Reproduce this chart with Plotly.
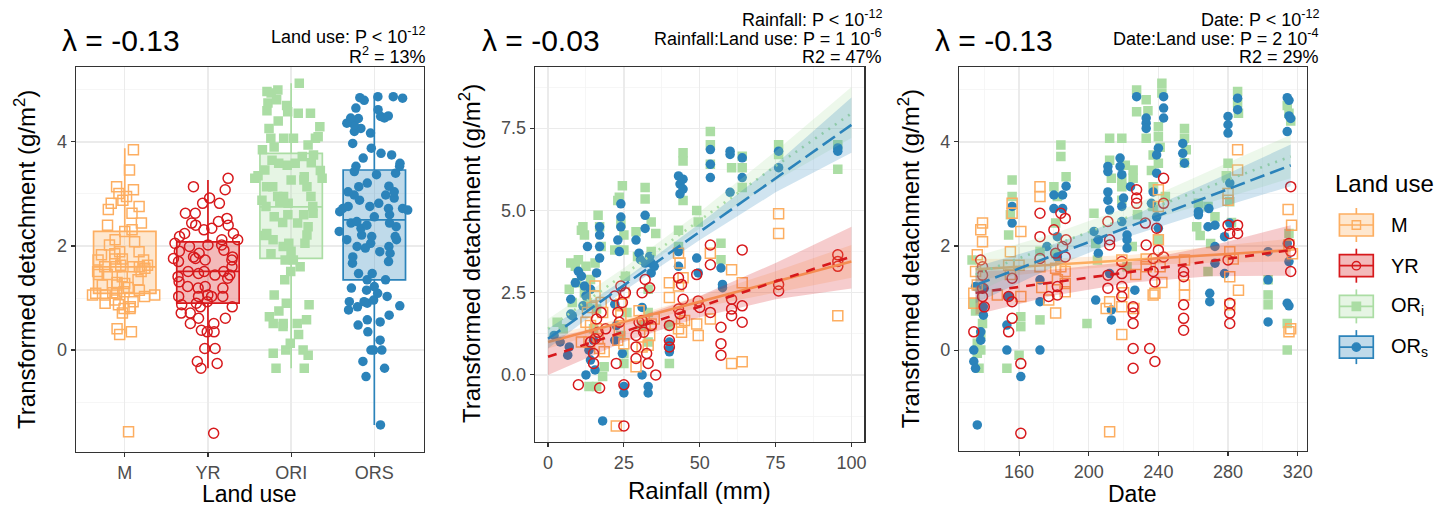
import plotly.graph_objects as go

W, H = 1447, 509
FONT = "Liberation Sans, Arial, Helvetica, sans-serif"

groups = ["M", "YR", "ORI", "ORS"]
tick_labels_landuse = ["M", "YR", "ORI", "ORS"]
legend_labels = ["M", "YR", "OR<sub>i</sub>", "OR<sub>s</sub>"]
colors = {"M": "#FDAE61", "YR": "#D7191C", "ORI": "#ABDDA4", "ORS": "#2B83BA"}
symbols = {"M": "square-open", "YR": "circle-open", "ORI": "square", "ORS": "circle"}

# ---------------- Panel 1: box statistics ----------------
box_q1 = [1.09, 0.90, 1.76, 1.35]
box_med = [1.60, 1.51, 2.75, 2.50]
box_q3 = [2.28, 2.08, 3.78, 3.46]
box_lo = [0.32, -0.35, -0.35, -1.44]
box_hi = [3.88, 3.27, 5.13, 4.87]

# ---------------- Panel 3 data (Date, transformed detachment, lambda=-0.13) ---
date_pts_M = [(139, 2.44), (138, 2.31), (139, 2.08), (136, 1.83), (135, 1.51), (134, 1.09), (147.5, 1.06),
              (134, 0.9), (156, 2.82), (156, 2.63), (155, 1.89), (154, 1.63), (161, 2.28), (160, 1.63),
              (161, 1.03), (172, 3.14), (172, 2.95), (172, 1.6), (177, 0.96), (181, 0.71), (181, 1.57),
              (186.5, 1.51), (186.5, 1.28), (186.5, 1.12), (184, 1.6), (212, -1.57), (212, 0.93), (210, 0.8),
              (219, 0.3), (219, 1.73), (219, 0.83), (226, 0.8), (233, 1.6), (233, 1.75), (240, 3.08),
              (240, 2.76), (240, 2.12), (237, 1.06), (238, 1.09), (241, 1.6), (255, 1.73), (255, 1.25),
              (255, 1.06), (280, 3.01), (280, 2.88), (285.5, 3.85), (285.5, 3.46), (281, 1.89), (281, 1.41),
              (281, 0.87), (314.5, 2.7), (316.5, 2.4), (315, 2.02), (315, 0.35), (316, 0.41), (136, 1.25),
              (155, 1.45), (173, 1.2), (182, 1.35), (220, 1.1), (227, 1.45), (242, 1.3), (283, 1.75),
              (286, 1.15), (317, 1.85)]
date_pts_YR = [(138, 1.73), (139, 1.6), (139, 1.44), (139, 1.19), (139, 1.03), (140, 0.83), (134, 0.35),
               (156, 1.38), (154, 1.03), (156, 0.93), (156, 0.61), (154, 0.35), (161, -0.26), (161, -1.6),
               (172, 2.63), (172, 2.18), (172, 1.76), (177, 1.03), (180, 2.31), (181, 1.86), (182, 1.06),
               (182, 1.22), (184, 2.63), (186.5, 2.53), (187, 2.12), (185, 1.99), (186.5, 1.79), (211, 2.47),
               (212, 2.12), (212, 2.02), (211, 1.44), (211, 1.19), (219, 1.7), (219, 1.47), (219, 1.22),
               (219, 1.03), (225.5, 0.83), (225.5, 0.71), (225.5, 0.51), (225.5, 0.03), (225.5, -0.35),
               (227.5, 3.08), (227.5, 2.92), (227.5, 2.82), (232.5, 2.44), (233, 2.02), (235, 0.03),
               (238, -0.22), (237, 1.76), (237, 1.51), (238, 1.31), (240, 1.92), (239, 2.34), (243, 3.3),
               (243, 2.82), (243, 1.79), (254.5, 1.51), (254.5, 1.41), (254.5, 0.87), (254.5, 0.61),
               (254.5, 0.38), (280, 2.4), (281, 2.24), (280, 1.73), (281, 0.9), (281, 0.71), (281, 0.51),
               (285.5, 2.4), (285.5, 2.24), (316, 3.14), (315, 2.05), (316, 1.9), (316, 1.51)]
date_pts_ORI = [(133, 1.73), (134, 0.9), (136, 0.13), (136, -0.06), (137, -0.35), (138, 0.0), (139, 0.51),
                (138, 0.3), (156, 3.27), (156, 2.95), (154, 2.21), (153, -0.35), (160, -0.1), (161, 0.64),
                (161, 0.45), (172, 0.58), (184, 3.94), (184, 3.72), (187, 3.33), (180, 3.14), (181, 2.44),
                (181, 1.85), (199, 0.51), (203, 2.63), (212, 3.65), (212, 4.07), (205, 1.73), (219, 4.07),
                (219, 3.27), (219, 3.14), (219, 2.88), (222, 1.6), (225, 1.99), (225.5, 3.46), (225.5, 3.3),
                (227.5, 5.0), (227.5, 4.58), (233, 4.81), (233, 4.07), (237, 3.75), (237, 3.14), (237, 2.76),
                (240, 4.29), (240, 4.1), (240, 3.59), (240, 2.12), (242, 5.13), (242, 4.94), (255, 4.26),
                (255, 4.07), (255, 3.6), (263, 2.82), (262, 2.37), (268.5, 2.76), (272.5, 2.56), (268.5, 1.51),
                (280, 3.59), (281, 2.85), (285.5, 4.97), (285.5, 4.75), (303, 1.35), (303, 1.06), (303, 0.87),
                (314, 4.7), (315, 4.55), (316, 4.4), (315, 2.24), (314, 0.51), (314, 0.0), (182, 2.95),
                (213, 3.3), (221, 3.55), (234, 4.6), (241, 3.9), (256, 3.85), (264, 2.2), (279, 3.35),
                (286, 4.55), (155, 2.6), (172, 1.9), (204, 2.05), (228, 2.6), (236, 3.45), (244, 2.95),
                (270, 2.05), (282, 2.45), (135, 0.75)]
date_pts_ORS = [(136, -1.44), (134, -0.22), (135, -0.35), (134, 0.0), (138, 0.19), (138, 0.35), (139.5, 0.67),
                (139.5, 0.83), (140, 1.19), (135, 1.22), (153, 0.0), (153, 0.48), (154, 1.03), (156, 2.44),
                (156, 2.76), (161, -0.51), (172, 0.0), (172, 0.93), (172, 1.35), (176, 1.99), (180, 2.98),
                (180, 2.72), (182, 2.18), (182, 1.79), (185, 2.98), (185, 2.72), (187, 3.15), (203, 2.28),
                (205.5, 2.12), (205.5, 1.86), (204, 0.96), (211, 3.43), (211, 3.53), (211, 3.04), (211, 2.88),
                (212, 2.69), (212, 1.47), (213, 0.77), (213, 0.58), (218, 3.69), (218, 3.53), (219, 3.37),
                (220, 2.92), (219, 2.76), (219, 2.47), (222, 2.21), (222, 2.12), (222, 1.96), (226.5, 1.15),
                (227.5, 4.87), (224, 3.14), (233, 4.46), (233, 4.36), (233, 4.26), (236, 2.82), (237, 3.04),
                (239, 3.4), (240, 3.88), (239, 3.75), (239, 2.56), (240, 2.34), (243, 4.87), (243, 4.65),
                (243, 4.46), (254, 3.97), (254, 3.78), (255, 3.59), (263, 2.66), (263, 2.6), (269, 2.72),
                (268.5, 2.37), (272.5, 2.4), (269.5, 1.09), (269.5, 0.93), (272.5, 1.99), (272.5, 1.67),
                (280, 4.49), (280, 4.33), (280, 4.17), (281, 3.21), (278, 2.18), (281, 2.44), (278, 1.47),
                (285.5, 4.84), (285.5, 4.62), (303, 1.89), (303, 1.35), (303, 0.54), (314, 4.85), (315, 4.8),
                (315, 4.5), (316, 4.45), (314, 4.2), (314, 2.05), (315, 1.7), (314, 0.9), (315, 0.85)]

# ---------------- Panel 2 data (Rainfall mm, transformed detachment, lambda=-0.03) ---
rain_pts_M = [(11, 1.0), (12.5, 1.6), (13, 1.9), (13.5, 1.0), (14, 1.5), (15.5, 2.7), (15.5, 2.4), (16, 1.4),
              (16.5, 1.1), (17, 0.8), (18, 1.9), (18.5, 0.7), (22.5, -1.55), (23, 1.05), (24, 2.15), (24, 1.8),
              (25, 0.95), (25, 2.5), (29, 0.25), (31, 0.85), (32, 1.5), (33, 0.9), (34, 1.55), (35, 1.7),
              (40, 2.8), (40, 2.35), (43, 3.7), (43, 1.4), (43.5, 3.4), (44, 1.3), (44.5, 2.95), (45, 1.65),
              (49, 1.55), (49.5, 1.2), (53.5, 3.7), (53.5, 1.7), (60.5, 3.2), (60.5, 0.35), (64, 2.8),
              (64, 0.4), (76, 4.9), (76, 4.3), (95.5, 1.8), (14.5, 2.05), (17.5, 2.2), (23.5, 1.35),
              (30, 1.95), (33.5, 1.2), (43, 2.7), (44, 1.6)]
rain_pts_YR = [(10, -0.3), (14, 1.0), (15, 0.65), (15, 0.35), (15.5, 1.1), (16, 1.7), (17, -0.4), (17.5, 1.9),
               (19, 1.4), (22, 2.4), (22.5, 0.35), (23, 1.9), (24, 2.7), (24.5, 2.2), (25, -0.3), (25, -1.55),
               (25.5, 2.5), (29, 1.2), (29, 0.85), (29, 0.5), (30, 1.6), (31, 2.5), (31, 1.65), (32, 2.9),
               (32.5, 0.65), (33, 0.35), (33.5, 2.65), (34, 1.5), (35.5, 0.0), (40, 1.5), (40, 1.05),
               (40, 0.85), (43, 2.95), (43, 2.0), (43.5, 1.85), (44, 2.75), (44.5, 2.3), (49, 3.05),
               (49.5, 2.25), (50, 2.05), (53.5, 3.95), (53.5, 3.35), (53.5, 1.9), (57, 1.45), (57, 0.95),
               (57, 0.6), (60.5, 2.3), (60.5, 2.0), (60.5, 1.8), (64, 3.8), (64, 2.1), (64, 1.6), (76, 2.75),
               (76, 2.55), (95.5, 3.65), (95.5, 3.45), (95.5, 3.3), (16.5, 1.3), (23.5, 1.6), (31.5, 1.3)]
rain_pts_ORI = [(3, 1.6), (5, 1.4), (7, 2.6), (7.5, 3.4), (8, 2.2), (9, 3.3), (10, 3.5), (11, 4.4), (11.5, 4.5),
                (12, 4.25), (12.5, 3.3), (13, 2.2), (13.5, -0.35), (14, 2.9), (15, 1.4), (15.5, 3.4),
                (16, -0.35), (16.5, 4.85), (17, 4.5), (17.5, 3.9), (18, -0.05), (18.5, 0.25), (22, 3.8),
                (23, 5.3), (23.5, 5.4), (24, 4.6), (24.5, 5.75), (25, 4.25), (25, 3.8), (25, 0.65), (25, 0.35),
                (25.5, 3.0), (26, 1.9), (29, 4.35), (29.5, 3.6), (31, 1.5), (32, 5.7), (32, 5.35), (33, 1.9),
                (33, 1.0), (34, 4.65), (34, 3.75), (35.5, 4.3), (40, 1.5), (40, 0.35), (43, 4.4), (43, 3.9),
                (44.5, 6.75), (44.5, 6.5), (44.5, 5.3), (49, 5.0), (49.5, 4.65), (53.5, 7.4), (53.5, 7.0),
                (53.5, 6.4), (57, 4.0), (57, 3.5), (60.5, 6.3), (64, 6.65), (64, 6.3), (64, 5.7), (76, 7.0),
                (76, 6.7), (95.5, 7.0), (95.5, 6.25), (9.5, 2.8), (12, 2.5), (16, 2.0), (24, 1.2), (33, 2.6)]
rain_pts_ORS = [(2, 1.2), (4, 1.0), (6.5, 0.6), (7, 0.85), (7.5, 1.85), (7.5, 2.3), (8, 1.8), (9, 2.8),
                (10, 3.15), (11, 3.0), (12, 2.7), (12.5, 2.4), (12.5, 0.0), (13, 3.9), (13.5, 0.75), (14, 0.45),
                (15, 1.05), (15.5, 0.15), (16, 3.1), (17, 4.5), (17, 4.25), (17, 3.9), (17, 3.55), (18, -1.4),
                (22, 2.15), (22, 1.05), (22.5, 1.5), (23, 4.1), (23.5, 3.75), (24, 5.2), (24, 4.8), (24, 4.5),
                (24.5, 0.65), (25, -0.35), (25, -0.55), (29, 4.1), (30, 3.7), (31, 2.05), (31, 0.0),
                (32, 4.85), (32, 4.45), (32, 3.4), (33, -0.35), (33, -0.55), (34, 3.4), (34, 3.1), (35, 3.3),
                (40, 1.0), (40, 0.8), (40, 0.7), (43, 3.75), (43, 3.3), (43, 6.05), (43.5, 5.8), (43.5, 5.5),
                (44.5, 5.95), (44.5, 5.65), (49, 3.55), (49.5, 3.1), (53.5, 6.85), (53.5, 6.4), (53.5, 6.0),
                (57, 3.25), (57.5, 2.75), (57.5, 2.65), (60, 6.8), (60, 6.7), (60, 5.55), (64, 6.6), (64, 6.0),
                (76, 6.8), (76, 6.3), (95.5, 6.9), (95.5, 6.8), (11.5, 2.1), (14, 2.6), (30.5, 3.5), (33.5, 3.6)]

# ---------------- Fitted lines with confidence bands ------
rain_grid = [0, 25, 50, 75, 100]
fit2_M = [1.00, 1.61, 2.23, 2.84, 3.45]
lo2_M = [0.80, 1.50, 2.05, 2.50, 2.95]
hi2_M = [1.20, 1.72, 2.40, 3.15, 3.95]
fit2_YR = [0.55, 1.31, 2.08, 2.84, 3.60]
lo2_YR = [0.00, 1.00, 1.75, 2.30, 2.63]
hi2_YR = [1.10, 1.62, 2.40, 3.40, 4.50]
fit2_ORI = [1.40, 3.05, 4.70, 6.35, 7.95]
lo2_ORI = [1.10, 2.85, 4.45, 5.90, 7.20]
hi2_ORI = [1.70, 3.25, 4.95, 6.80, 8.75]
fit2_ORS = [1.10, 2.73, 4.35, 5.98, 7.60]
lo2_ORS = [0.80, 2.55, 4.10, 5.55, 6.75]
hi2_ORS = [1.40, 2.90, 4.60, 6.40, 8.43]

date_grid = [135, 180, 225, 270, 316]
fit3_M = [1.55, 1.64, 1.73, 1.83, 1.92]
lo3_M = [1.35, 1.52, 1.63, 1.68, 1.70]
hi3_M = [1.75, 1.76, 1.83, 1.98, 2.14]
fit3_YR = [1.10, 1.30, 1.50, 1.71, 1.92]
lo3_YR = [0.68, 1.05, 1.30, 1.42, 1.43]
hi3_YR = [1.52, 1.55, 1.70, 2.00, 2.40]
fit3_ORI = [1.45, 2.02, 2.59, 3.15, 3.72]
lo3_ORI = [1.10, 1.80, 2.40, 2.85, 3.30]
hi3_ORI = [1.80, 2.24, 2.78, 3.45, 4.14]
fit3_ORS = [1.25, 1.82, 2.39, 2.96, 3.55]
lo3_ORS = [0.90, 1.60, 2.20, 2.68, 3.15]
hi3_ORS = [1.60, 2.04, 2.58, 3.24, 3.95]

date_pts = {"M": date_pts_M, "YR": date_pts_YR, "ORI": date_pts_ORI, "ORS": date_pts_ORS}
rain_pts = {"M": rain_pts_M, "YR": rain_pts_YR, "ORI": rain_pts_ORI, "ORS": rain_pts_ORS}
fits2 = {"M": (fit2_M, lo2_M, hi2_M), "YR": (fit2_YR, lo2_YR, hi2_YR),
         "ORI": (fit2_ORI, lo2_ORI, hi2_ORI), "ORS": (fit2_ORS, lo2_ORS, hi2_ORS)}
fits3 = {"M": (fit3_M, lo3_M, hi3_M), "YR": (fit3_YR, lo3_YR, hi3_YR),
         "ORI": (fit3_ORI, lo3_ORI, hi3_ORI), "ORS": (fit3_ORS, lo3_ORS, hi3_ORS)}

dashes = {"M": "solid", "YR": "9px,8px", "ORI": "2px,6px", "ORS": "15px,6px"}


def rgba(hexc, a):
    hexc = hexc.lstrip("#")
    r, g, b = int(hexc[0:2], 16), int(hexc[2:4], 16), int(hexc[4:6], 16)
    return f"rgba({r},{g},{b},{a})"


def px(x):
    return x / W


def py(y):
    return 1 - y / H


def marker_for(g, size=10):
    open_sym = symbols[g].endswith("open")
    return dict(symbol=symbols[g], color=colors[g], size=size if open_sym else size - 0.5,
                line=dict(width=1.5 if open_sym else 0, color=colors[g]))


fig = go.Figure()

# ---------- Panel 1 ----------
for i, g in enumerate(groups):
    fig.add_trace(go.Box(
        x=[i], q1=[box_q1[i]], median=[box_med[i]], q3=[box_q3[i]],
        lowerfence=[box_lo[i]], upperfence=[box_hi[i]],
        width=0.75, whiskerwidth=0, boxpoints=False,
        fillcolor=rgba(colors[g], 0.3), line=dict(color=colors[g], width=1.7),
        xaxis="x", yaxis="y", hoverinfo="skip"))
for i, g in enumerate(groups):
    yv = [p[1] for p in date_pts[g]]
    fig.add_trace(go.Box(
        y=yv, x0=i, width=0.9, boxpoints="all", jitter=1, pointpos=0,
        fillcolor="rgba(0,0,0,0)", line=dict(width=0, color="rgba(0,0,0,0)"),
        marker=marker_for(g), xaxis="x", yaxis="y", hoverinfo="skip"))

# ---------- Panels 2 and 3: points ----------
order = ["ORI", "ORS", "M", "YR"]
for g in order:
    pts = rain_pts[g]
    fig.add_trace(go.Scatter(x=[p[0] for p in pts], y=[p[1] for p in pts], mode="markers",
                             marker=marker_for(g), xaxis="x2", yaxis="y2", hoverinfo="skip"))
    pts = date_pts[g]
    fig.add_trace(go.Scatter(x=[p[0] for p in pts], y=[p[1] for p in pts], mode="markers",
                             marker=marker_for(g), xaxis="x3", yaxis="y3", hoverinfo="skip"))

# ---------- bands + lines ----------
for grid, fits, xa, ya in [(rain_grid, fits2, "x2", "y2"), (date_grid, fits3, "x3", "y3")]:
    for g in groups:
        fit, lo, hi = fits[g]
        fig.add_trace(go.Scatter(x=grid + grid[::-1], y=hi + lo[::-1], fill="toself",
                                 fillcolor=rgba(colors[g], 0.22), line=dict(width=0),
                                 mode="lines", xaxis=xa, yaxis=ya, hoverinfo="skip"))
        fig.add_trace(go.Scatter(x=grid, y=fit, mode="lines",
                                 line=dict(color=colors[g], width=2.6, dash=dashes[g]),
                                 xaxis=xa, yaxis=ya, hoverinfo="skip"))


def base_axis(**kw):
    d = dict(showline=True, mirror=True, linecolor="#333333", linewidth=1.1,
             ticks="outside", ticklen=4, tickwidth=1.1, tickcolor="#333333",
             showgrid=True, gridcolor="#EBEBEB", gridwidth=1.3, zeroline=False,
             tickfont=dict(family=FONT, size=18, color="#4D4D4D"))
    d.update(kw)
    return d


def minor(dt, t0):
    return dict(dtick=dt, tick0=t0, showgrid=True, gridcolor="#F4F4F4", gridwidth=0.8, ticks="")


fig.update_layout(
    width=W, height=H, margin=dict(l=0, r=0, t=0, b=0),
    paper_bgcolor="white", plot_bgcolor="white", showlegend=False, boxmode="overlay",
    xaxis=base_axis(domain=[px(76), px(426)], range=[-0.59, 3.6], tickmode="array",
                    tickvals=[0, 1, 2, 3], ticktext=tick_labels_landuse, anchor="y"),
    yaxis=base_axis(domain=[py(452), py(67)], range=[-1.96, 5.44], dtick=2, tick0=0,
                    minor=minor(1, 1), anchor="x"),
    xaxis2=base_axis(domain=[px(537), px(868)], range=[-4.37, 104.27], dtick=25, tick0=0,
                     minor=minor(12.5, 0), anchor="y2"),
    yaxis2=base_axis(domain=[py(442), py(67)], range=[-2.04, 9.36], dtick=2.5, tick0=0,
                     tickformat=".1f", minor=minor(1.25, 0), anchor="x2"),
    xaxis3=base_axis(domain=[px(963), px(1312)], range=[125.5, 325.1], dtick=40, tick0=0,
                     minor=minor(20, 0), anchor="y3"),
    yaxis3=base_axis(domain=[py(451), py(67)], range=[-1.94, 5.44], dtick=2, tick0=0,
                     minor=minor(1, 1), anchor="x3"),
)

ann = []


def text(x, y, s, size, xanchor="left", angle=0, color="black"):
    ann.append(dict(x=px(x), y=py(y), xref="paper", yref="paper", text=s, showarrow=False,
                    xanchor=xanchor, yanchor="middle", textangle=angle,
                    font=dict(family=FONT, size=size, color=color)))


# titles
text(60, 40, "λ = -0.13", 30)
text(482, 40, "λ = -0.03", 30)
text(937, 40, "λ = -0.13", 30)
# statistics
text(430, 35, "Land use: P &lt; 10<sup>-12</sup>", 18, "right")
text(430, 56, "R<sup>2</sup> = 13%", 18, "right")
text(888, 19, "Rainfall: P &lt; 10<sup>-12</sup>", 18, "right")
text(888, 38, "Rainfall:Land use: P = 1 10<sup>-6</sup>", 18, "right")
text(888, 57, "R2 = 47%", 18, "right")
text(1326, 19, "Date: P &lt; 10<sup>-12</sup>", 18, "right")
text(1326, 38, "Date:Land use: P = 2 10<sup>-4</sup>", 18, "right")
text(1326, 57, "R2 = 29%", 18, "right")
# axis titles
ytitle = "Transformed detachment (g/m<sup>2</sup>)"
text(25, 259, ytitle, 24, "center", -90)
text(472, 254, ytitle, 24, "center", -90)
text(913, 259, ytitle, 24, "center", -90)
text(251, 494, "Land use", 23, "center")
text(702, 490, "Rainfall (mm)", 24, "center")
text(1137, 494, "Date", 23, "center")

# custom legend (ggplot-style boxplot keys)
text(1339, 183, "Land use", 24)
shapes = []
for i, g in enumerate(groups):
    yc = 225 + 40.7 * i
    c = colors[g]
    shapes.append(dict(type="rect", xref="paper", yref="paper", x0=px(1345), x1=px(1379),
                       y0=py(yc + 11), y1=py(yc - 11), fillcolor=rgba(c, 0.3),
                       line=dict(color=c, width=1.7)))
    shapes.append(dict(type="line", xref="paper", yref="paper", x0=px(1362), x1=px(1362),
                       y0=py(yc - 11), y1=py(yc - 17), line=dict(color=c, width=1.7)))
    shapes.append(dict(type="line", xref="paper", yref="paper", x0=px(1362), x1=px(1362),
                       y0=py(yc + 11), y1=py(yc + 17), line=dict(color=c, width=1.7)))
    shapes.append(dict(type="line", xref="paper", yref="paper", x0=px(1345), x1=px(1379),
                       y0=py(yc), y1=py(yc), line=dict(color=c, width=1.7)))
    r = 4.2
    is_open = symbols[g].endswith("open")
    stype = "rect" if "square" in symbols[g] else "circle"
    shapes.append(dict(type=stype, xref="paper", yref="paper", x0=px(1362 - r), x1=px(1362 + r),
                       y0=py(yc + r), y1=py(yc - r),
                       fillcolor=rgba(c, 0.0) if is_open else c,
                       line=dict(color=c, width=1.4)))
    text(1395, yc, legend_labels[i], 20)

fig.update_layout(annotations=ann, shapes=shapes)
fig.write_html("out.html", config={"displayModeBar": False, "staticPlot": True},
               post_script="document.body.style.margin='0px';document.body.style.overflow='hidden';")
